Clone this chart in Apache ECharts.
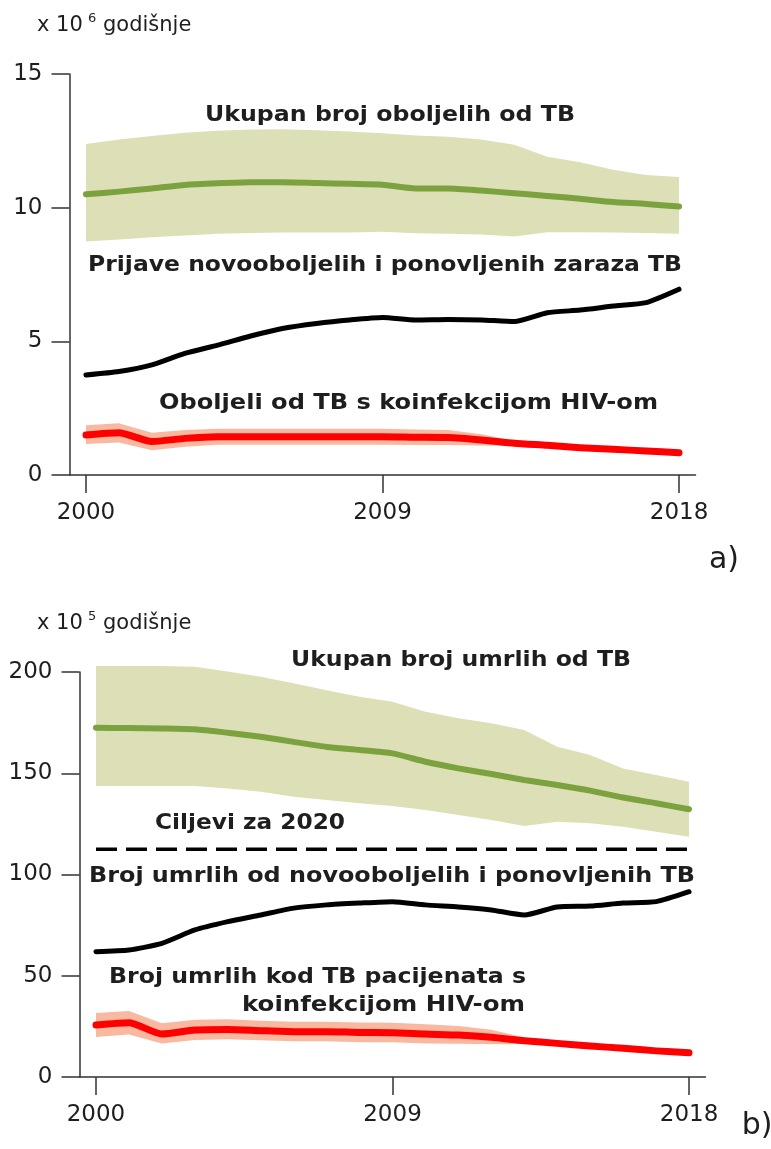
<!DOCTYPE html>
<html>
<head>
<meta charset="utf-8">
<script src="https://cdn.jsdelivr.net/npm/echarts@6/dist/echarts.min.js"></script>
<style>
  html, body { margin: 0; padding: 0; background: #fff; }
  #chart { width: 771px; height: 1149px; }
</style>
</head>
<body>
<div id="chart"></div>
<script>
// godine
const years = [2000, 2001, 2002, 2003, 2004, 2005, 2006, 2007, 2008, 2009,
  2010, 2011, 2012, 2013, 2014, 2015, 2016, 2017, 2018];
const xTicks = [2000, 2009, 2018];

// a) oboljeli, x 10^6 godisnje
const incTotal = [10.5, 10.6, 10.72, 10.85, 10.91, 10.95, 10.95, 10.92, 10.89, 10.86,
  10.72, 10.72, 10.64, 10.54, 10.44, 10.33, 10.21, 10.14, 10.04];
const incTotalHi = [12.38, 12.55, 12.68, 12.8, 12.88, 12.92, 12.93, 12.9, 12.85, 12.78,
  12.7, 12.65, 12.55, 12.35, 11.9, 11.7, 11.42, 11.22, 11.15];
const incTotalLo = [8.73, 8.81, 8.89, 8.96, 9.02, 9.05, 9.07, 9.07, 9.07, 9.1,
  9.04, 9.02, 9.0, 8.92, 9.08, 9.08, 9.07, 9.05, 9.02];
const notified = [3.74, 3.87, 4.12, 4.55, 4.86, 5.2, 5.49, 5.67, 5.8, 5.89,
  5.8, 5.82, 5.8, 5.74, 6.07, 6.17, 6.32, 6.45, 6.95];
const incHiv = [1.5, 1.58, 1.25, 1.37, 1.43, 1.43, 1.43, 1.43, 1.43, 1.43,
  1.41, 1.4, 1.31, 1.19, 1.11, 1.02, 0.96, 0.9, 0.83];
const incHivHi = [1.86, 1.94, 1.58, 1.68, 1.73, 1.73, 1.73, 1.73, 1.73, 1.73,
  1.7, 1.68, 1.52, 1.28, 1.11, 1.02, 0.96, 0.9, 0.83];
const incHivLo = [1.16, 1.22, 0.93, 1.06, 1.13, 1.13, 1.13, 1.13, 1.13, 1.13,
  1.12, 1.12, 1.1, 1.1, 1.11, 1.02, 0.96, 0.9, 0.83];

// b) umrli, x 10^5 godisnje
const deathTotal = [172.5, 172.3, 172.1, 171.7, 170.0, 168.0, 165.5, 163.0, 161.5, 159.8,
  155.7, 152.4, 149.6, 146.7, 144.2, 141.4, 138.0, 135.2, 132.2];
const deathTotalHi = [203, 203, 203, 202.6, 200.2, 197.7, 194.4, 191, 187.8, 185.3,
  180.4, 177.1, 174.7, 171.4, 163.1, 159, 152.4, 149.1, 145.8];
const deathTotalLo = [143.7, 143.7, 143.7, 143.7, 142.5, 140.9, 138.4, 136.8, 135.2, 133.8,
  131.9, 129.4, 126.9, 124, 126.1, 125.3, 123.6, 121.1, 118.7];
const deathNotified = [61.9, 62.7, 66, 72.6, 76.7, 80, 83.4, 85, 85.9, 86.6,
  85, 84, 82.5, 80, 84, 84.4, 85.9, 86.6, 91.5];
const deathHiv = [25.7, 26.8, 21.2, 23.2, 23.5, 22.9, 22.4, 22.4, 22, 21.9,
  21.2, 20.7, 19.6, 17.9, 16.6, 15.3, 14.2, 12.9, 12];
const deathHivHi = [31.6, 32.6, 26.5, 28.3, 28.5, 27.8, 27.3, 27.3, 26.9, 26.8,
  26, 25.2, 23.3, 19.5, 16.6, 15.3, 14.2, 12.9, 12];
const deathHivLo = [19.8, 21.0, 16.5, 18.3, 18.6, 18.1, 17.6, 17.6, 17.2, 17.1,
  16.6, 16.4, 16.2, 16.3, 16.6, 15.3, 14.2, 12.9, 12];
const target2020 = 112.5;

const GREEN = '#7ba23f';
const GREEN_BAND = '#dde0b6';
const RED = '#ff0000';
const RED_BAND = '#f9b9a1';
const TEXT = '#1e1e1e';
const AXIS = '#333';

const chart = echarts.init(document.getElementById('chart'));

function xAxis(gridIndex) {
  return {
    type: 'value', gridIndex, min: 1999.5, max: 2018.5,
    axisLine: { lineStyle: { color: AXIS, width: 1.5 } },
    axisTick: { customValues: xTicks, length: 18, lineStyle: { color: AXIS, width: 1.5 } },
    axisLabel: {
      customValues: xTicks, margin: 27, fontSize: 23, color: TEXT, fontFamily: 'DejaVu Sans',
      formatter: (v) => String(v)
    },
    splitLine: { show: false }
  };
}

function yAxis(gridIndex, max, interval) {
  return {
    type: 'value', gridIndex, min: 0, max, interval,
    axisLine: { show: true, lineStyle: { color: AXIS, width: 1.5 } },
    axisTick: { show: true, length: 18, lineStyle: { color: AXIS, width: 1.5 } },
    axisLabel: { margin: 27, fontSize: 23, color: TEXT, fontFamily: 'DejaVu Sans' },
    splitLine: { show: false }
  };
}

function band(idx, lo, hi, color) {
  return {
    type: 'custom', xAxisIndex: idx, yAxisIndex: idx, silent: true,
    data: years.map((y, i) => [y, lo[i], hi[i]]),
    encode: { x: 0, y: [1, 2] },
    renderItem(params, api) {
      if (params.dataIndex !== 0) return null;
      const top = years.map((y, i) => api.coord([y, hi[i]]));
      const bot = years.map((y, i) => api.coord([y, lo[i]])).reverse();
      return { type: 'polygon', shape: { points: top.concat(bot) }, style: { fill: color } };
    }
  };
}

function line(idx, vals, color, width) {
  return {
    type: 'line', xAxisIndex: idx, yAxisIndex: idx, silent: true,
    data: years.map((y, i) => [y, vals[i]]),
    symbol: 'none', smooth: 0.2,
    lineStyle: { color, width, cap: 'round', join: 'round' }
  };
}

// sirina teksta za rastezanje natpisa
const measureCtx = document.createElement('canvas').getContext('2d');
function label(text, left, cy, width) {
  const size = 21;
  measureCtx.font = 'bold ' + size + 'px "DejaVu Sans"';
  const w = measureCtx.measureText(text).width;
  return {
    type: 'text', x: left, y: cy, scaleX: width / w, silent: true,
    style: {
      text, fontSize: size, fontWeight: 'bold', fontFamily: 'DejaVu Sans',
      fill: TEXT, align: 'left', verticalAlign: 'middle'
    }
  };
}

function plain(text, x, y, size, align) {
  return {
    type: 'text', x, y, silent: true,
    style: { text, fontSize: size, fontFamily: 'DejaVu Sans', fill: TEXT, align: align || 'left', verticalAlign: 'middle' }
  };
}

const option = {
  animation: false,
  grid: [
    { left: 69.5, top: 74, width: 626, height: 401 },
    { left: 79.5, top: 672, width: 626, height: 405 }
  ],
  xAxis: [xAxis(0), xAxis(1)],
  yAxis: [yAxis(0, 15, 5), yAxis(1, 200, 50)],
  series: [
    band(0, incTotalLo, incTotalHi, GREEN_BAND),
    line(0, incTotal, GREEN, 6),
    line(0, notified, '#000', 5),
    band(0, incHivLo, incHivHi, RED_BAND),
    line(0, incHiv, RED, 7),

    band(1, deathTotalLo, deathTotalHi, GREEN_BAND),
    line(1, deathTotal, GREEN, 6),
    {
      type: 'line', xAxisIndex: 1, yAxisIndex: 1, silent: true, symbol: 'none',
      data: [[years[0], target2020], [years[years.length - 1], target2020]],
      lineStyle: { color: '#000', width: 3.5, type: [21, 9] }
    },
    line(1, deathNotified, '#000', 5),
    band(1, deathHivLo, deathHivHi, RED_BAND),
    line(1, deathHiv, RED, 7)
  ],
  graphic: [
    plain('x 10', 37, 26, 21),
    plain('6', 88, 19, 13),
    plain('godišnje', 103, 26, 21),
    plain('x 10', 37, 624, 21),
    plain('5', 88, 617, 13),
    plain('godišnje', 103, 624, 21),

    label('Ukupan broj oboljelih od TB', 205, 116, 370),
    label('Prijave novooboljelih i ponovljenih zaraza TB', 88, 266, 594),
    label('Oboljeli od TB s koinfekcijom HIV-om', 159, 404, 499),

    label('Ukupan broj umrlih od TB', 291, 661, 340),
    label('Ciljevi za 2020', 155, 824, 190),
    label('Broj umrlih od novooboljelih i ponovljenih TB', 89, 877, 606),
    label('Broj umrlih kod TB pacijenata s', 109, 978, 417),
    label('koinfekcijom HIV-om', 242, 1006, 283),

    plain('a)', 724, 560, 30, 'center'),
    plain('b)', 757, 1126, 30, 'center')
  ]
};

chart.setOption(option);
</script>
</body>
</html>
